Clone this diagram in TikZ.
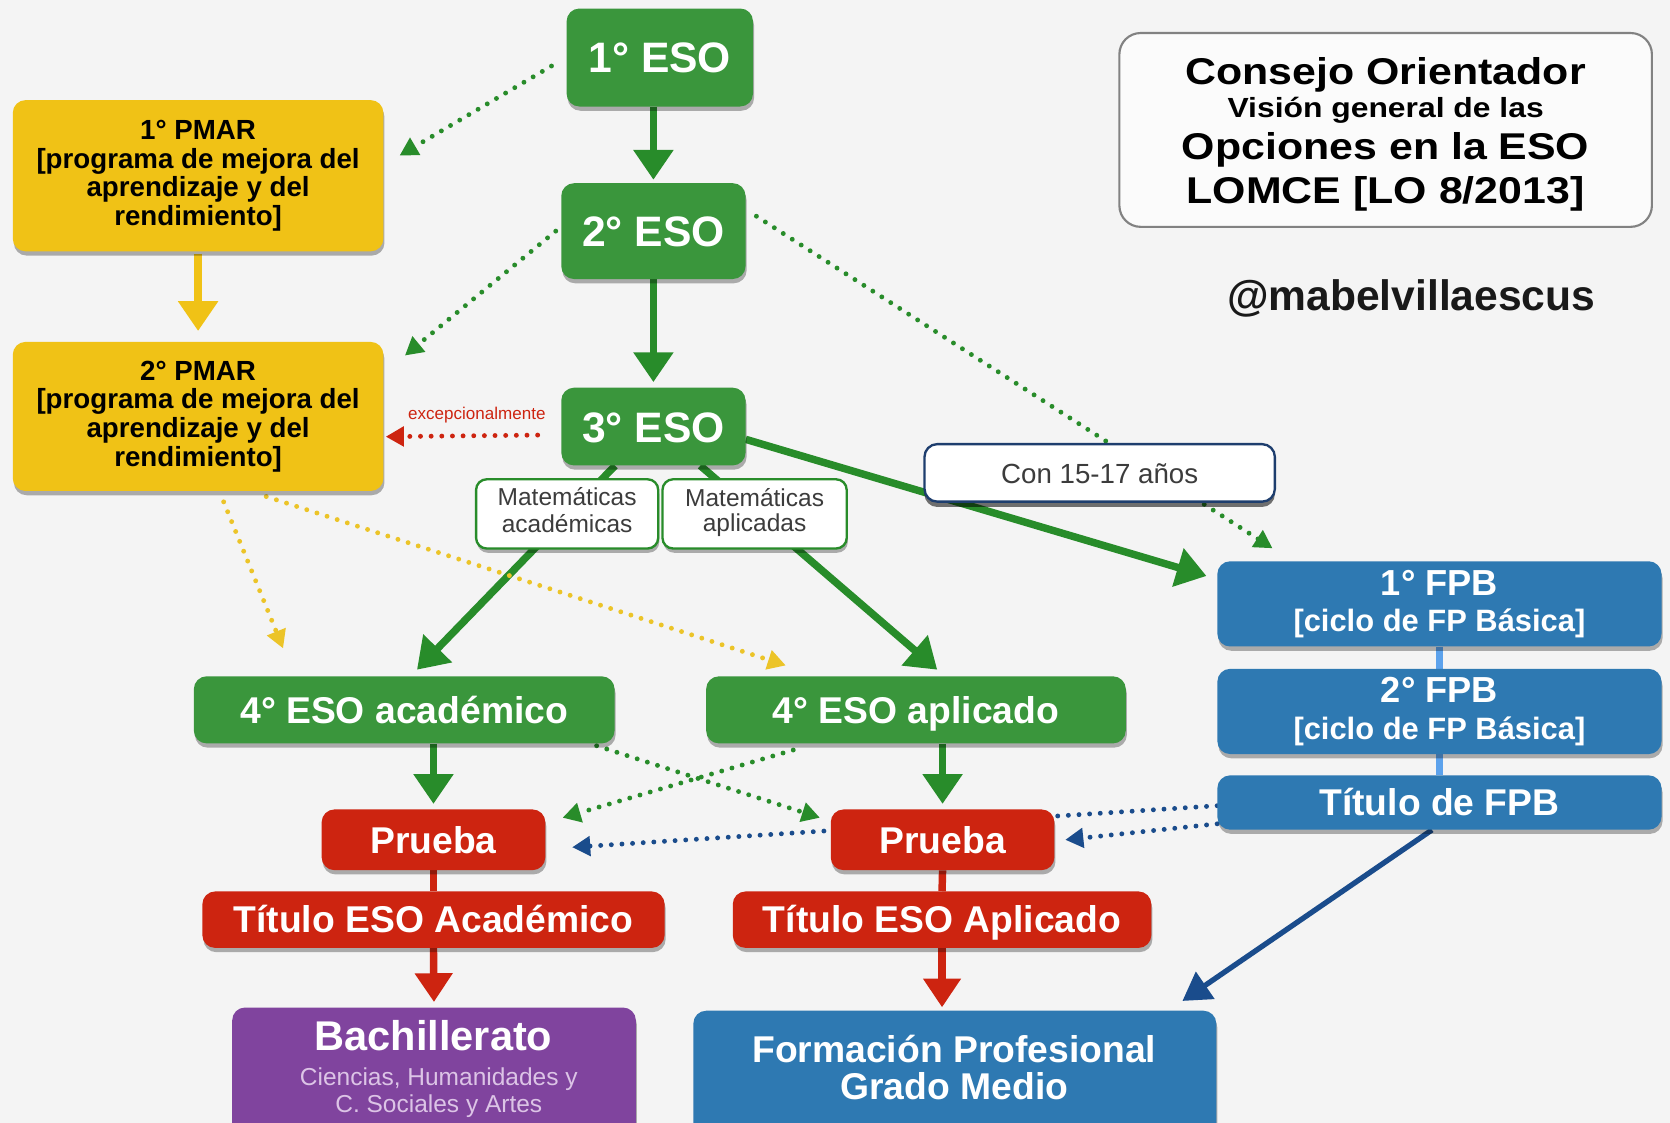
\documentclass[tikz,border=0pt]{standalone}
\usepackage{fontspec}
\setmainfont{Liberation Sans}
\newfontfamily\widefont{Liberation Sans}[FakeStretch=1.15]
\usetikzlibrary{arrows.meta,shadows,calc}
\pgfdeclarelayer{back}
\pgfdeclarelayer{bg}
\pgfsetlayers{back,bg,main}
\definecolor{bgc}{RGB}{244,244,244}
\definecolor{esogreen}{RGB}{58,150,60}
\definecolor{arrgreen}{RGB}{40,140,42}
\definecolor{pyellow}{RGB}{240,194,22}
\definecolor{dotyellow}{RGB}{236,196,40}
\definecolor{pred}{RGB}{205,36,16}
\definecolor{fpblue}{RGB}{46,121,178}
\definecolor{ppurple}{RGB}{128,68,158}
\definecolor{darkblue}{RGB}{26,76,140}
\definecolor{lightblue}{RGB}{92,162,236}
\definecolor{txtgray}{RGB}{60,60,60}
\definecolor{bordergray}{RGB}{130,130,130}
\definecolor{conborder}{RGB}{30,62,110}
\definecolor{subpurple}{RGB}{220,196,230}
\tikzset{
  box/.style={rounded corners=12pt, inner sep=0pt, align=center,
    drop shadow={shadow xshift=1pt, shadow yshift=-4pt, opacity=0.3, fill=black}},
  gbox/.style={box, fill=esogreen, text=white, font=\bfseries\fontsize{40}{44}\selectfont,
    text height=29pt, text depth=0pt},
  g4box/.style={box, fill=esogreen, text=white, font=\bfseries\fontsize{35}{38}\selectfont,
    text height=25pt, text depth=0pt},
  ybox/.style={box, fill=pyellow, text=black, font=\bfseries\fontsize{26}{27}\selectfont},
  rbox/.style={box, fill=pred, text=white, font=\bfseries\fontsize{35}{38}\selectfont,
    text height=25pt, text depth=0pt},
  bbox/.style={box, fill=fpblue, text=white, font=\bfseries\fontsize{34}{34}\selectfont},
  pbox/.style={box, fill=ppurple},
  mbox/.style={box, rounded corners=10pt, fill=white, draw=arrgreen, line width=2.2pt,
    text=txtgray, font=\fontsize{23}{24}\selectfont},
  cbox/.style={rounded corners=12pt, inner sep=0pt, fill=white, draw=conborder, line width=2.2pt,
    text=txtgray, font=\fontsize{26}{28}\selectfont, text height=19pt, text depth=0pt,
    drop shadow={shadow xshift=0pt, shadow yshift=-5pt, opacity=0.55, fill=black}},
  tbox/.style={rounded corners=20pt, fill=white!60!bgc, draw=bordergray, line width=2pt},
  garrow/.style={draw=arrgreen, line width=7pt, -{Triangle[width=36pt,length=28pt]}},
  yarrow/.style={draw=pyellow, line width=7pt, -{Triangle[width=36pt,length=28pt]}},
  rarrow/.style={draw=pred, line width=7pt, -{Triangle[width=34pt,length=27pt]}},
  rline/.style={draw=pred, line width=7pt},
  barrow/.style={draw=darkblue, line width=5pt, -{Triangle[width=30pt,length=26pt]}},
  lbline/.style={draw=lightblue, line width=6pt},
  dotbase/.style={line width=4.6pt, line cap=round, dash pattern=on 0pt off 10pt},
  dotg/.style={dotbase, draw=arrgreen, -{Triangle[width=18pt,length=17pt,fill=arrgreen]}},
  doty/.style={dotbase, draw=dotyellow, -{Triangle[width=18pt,length=17pt,fill=dotyellow]}},
  dotr/.style={dotbase, draw=pred, -{Triangle[width=18pt,length=17pt,fill=pred]}},
  dotb/.style={dotbase, draw=darkblue, -{Triangle[width=18pt,length=17pt,fill=darkblue]}},
}
\begin{document}
\begin{tikzpicture}[x=1pt,y=-1pt]
\useasboundingbox (0,0) rectangle (1568,1054);
\begin{pgfonlayer}{back}
  \fill[bgc] (0,0) rectangle (1568,1054);
\end{pgfonlayer}

% ---- nodes
\node[gbox, minimum width=175pt, minimum height=92pt] (eso1) at (619.5,54) {1° ESO};
\node[gbox, minimum width=173pt, minimum height=90pt] (eso2) at (613.5,217) {2° ESO};
\node[gbox, minimum width=173pt, minimum height=73pt] (eso3) at (613.5,400.5) {3° ESO};

\node[ybox, minimum width=348pt, minimum height=142pt] (pmar1) at (186,165)
  {1° PMAR\\\relax[programa de mejora del\\aprendizaje y del\\rendimiento]};
\node[ybox, minimum width=348pt, minimum height=140pt] (pmar2) at (186,391)
  {2° PMAR\\\relax[programa de mejora del\\aprendizaje y del\\rendimiento]};

\node[mbox, minimum width=171pt, minimum height=65pt] (matac) at (532.5,482.5)
  {\strut Matemáticas\\\strut académicas};
\node[mbox, minimum width=173pt, minimum height=65pt] (matap) at (708.5,482.5)
  {\strut Matemáticas\\\strut aplicadas};

\node[cbox, minimum width=329pt, minimum height=54pt] (con) at (1032.5,444) {Con 15-17 años};

\node[tbox, minimum width=500pt, minimum height=182pt] (title) at (1301,122) {};
\node[anchor=base, font=\widefont\bfseries\fontsize{35}{36}\selectfont] (t1) at (1301,79) {Consejo Orientador};
\node[anchor=base, font=\widefont\bfseries\fontsize{26}{28}\selectfont] (t2) at (1301,110) {Visión general de las};
\node[anchor=base, font=\widefont\bfseries\fontsize{35}{36}\selectfont] (t3) at (1301,150) {Opciones en la ESO};
\node[anchor=base, font=\widefont\bfseries\fontsize{35}{36}\selectfont] (t4) at (1301,191) {LOMCE [LO 8/2013]};

\node[font=\bfseries\fontsize{40}{44}\selectfont, text=black!90] (handle) at (1325,280) {@mabelvillaescus};

\node[bbox, minimum width=417pt, minimum height=80pt] (fpb1) at (1351.5,567)
  {1° FPB\\{\fontsize{29}{30}\selectfont [ciclo de FP Básica]}};
\node[bbox, minimum width=417pt, minimum height=80pt] (fpb2) at (1351.5,668)
  {2° FPB\\{\fontsize{29}{30}\selectfont [ciclo de FP Básica]}};
\node[box, fill=fpblue, text=white, minimum width=417pt, minimum height=51pt,
  font=\bfseries\fontsize{35}{38}\selectfont, text height=25pt, text depth=0pt] (tfpb) at (1351.5,753.5)
  {Título de FPB};

\node[g4box, minimum width=395pt, minimum height=63pt] (acad4) at (379.5,666.5) {4° ESO académico};
\node[g4box, minimum width=394pt, minimum height=63pt] (apl4) at (860,666.5) {4° ESO aplicado};

\node[rbox, minimum width=210pt, minimum height=57pt] (prL) at (407,788.5) {Prueba};
\node[rbox, minimum width=210pt, minimum height=57pt] (prR) at (885,788.5) {Prueba};
\node[rbox, minimum width=434pt, minimum height=53pt] (tacad) at (407,863.5) {Título ESO Académico};
\node[rbox, minimum width=393pt, minimum height=53pt] (tapl) at (884.5,863.5) {Título ESO Aplicado};

\node[pbox, minimum width=379pt, minimum height=120pt] (bach) at (407.5,1006) {};
\node[text=white, font=\bfseries\fontsize{39}{40}\selectfont] (bachT) at (407,972) {Bachillerato};
\node[text=subpurple, align=center, font=\fontsize{23}{25}\selectfont] (bachS) at (412,1026)
  {Ciencias, Humanidades y\\C. Sociales y Artes};

\node[box, fill=fpblue, minimum width=491pt, minimum height=117pt] (fpgm) at (896.5,1007.5) {};
\node[text=white, align=center, font=\bfseries\fontsize{35}{35}\selectfont] (fpgmT) at (896,1002)
  {Formación Profesional\\Grado Medio};

% ---- connectors
\begin{pgfonlayer}{bg}
  \draw[garrow, shorten >=3pt] (eso2.north |- eso1.south) -- (eso2.north);
  \draw[garrow, shorten >=5pt] (eso2.south) -- (eso3.north);
  \draw[yarrow, shorten >=10pt, shorten <=2pt] (pmar1.south) -- (pmar2.north);

  \draw[dotg] ([xshift=-14pt,yshift=-8pt]eso1.west) -- ([xshift=15pt,yshift=19pt]pmar1.east);
  \draw[dotg] ([xshift=-5pt]eso2.west) -- ([xshift=20pt,yshift=-13pt]pmar2.north east);
  \draw[dotg] ([xshift=10pt,yshift=14pt]eso2.east) -- ([xshift=52pt,yshift=12pt]fpb1.north west);
  \draw[garrow] ([yshift=-12pt]eso3.east) -- ([xshift=-10pt,yshift=-14pt]fpb1.north west);

  \draw[dotr] ([xshift=-22pt,yshift=-8pt]eso3.west) -- ([xshift=2pt,yshift=-19pt]pmar2.east)
     node[pos=0.4, above=6pt, text=pred, font=\fontsize{16}{16}\selectfont] (exc) {excepcionalmente};

  \draw[garrow] ([xshift=-36pt]eso3.south) -- ([xshift=12pt,yshift=6pt]acad4.north);
  \draw[garrow] ([xshift=44pt]eso3.south) -- ([xshift=20pt,yshift=6pt]apl4.north);

  \draw[doty] ([xshift=24pt,yshift=-10pt]pmar2.south) -- ([xshift=84pt,yshift=26pt]acad4.north west);
  \draw[doty] ([xshift=64pt,yshift=-5pt]pmar2.south) -- ([xshift=75pt,yshift=10pt]apl4.north west);

  \draw[garrow, shorten >=5pt] (prL.north |- acad4.south) -- (prL.north);
  \draw[garrow, shorten >=5pt] (prR.north |- apl4.south) -- (prR.north);

  \draw[dotg] ([xshift=-17pt,yshift=-2pt]acad4.south east) -- ([xshift=-10pt,yshift=-8pt]prR.north west);
  \draw[dotg] ([xshift=82pt,yshift=-6pt]apl4.south west) -- ([xshift=16pt,yshift=-8pt]prL.north east);

  \draw[dotb] ([yshift=-3pt]tfpb.west) -- ([xshift=25pt,yshift=-7pt]prL.east);
  \draw[dotb] ([yshift=-20pt]tfpb.west) -- ([xshift=10pt]prR.east);
  \draw[barrow] ([xshift=-7pt]tfpb.south) -- ([xshift=-32pt,yshift=9pt]fpgm.north east);

  \draw[lbline] (fpb1.south) -- (fpb2.north);
  \draw[lbline] (fpb2.south) -- (tfpb.north);

  \draw[rline] (prL.south) -- (tacad.north);
  \draw[rarrow, shorten >=5pt] (tacad.south) -- (bach.north);
  \draw[rline] (prR.south) -- (tapl.north);
  \draw[rarrow, shorten >=3pt] (tapl.south) -- (tapl.south |- fpgm.north);
\end{pgfonlayer}
\end{tikzpicture}
\end{document}
